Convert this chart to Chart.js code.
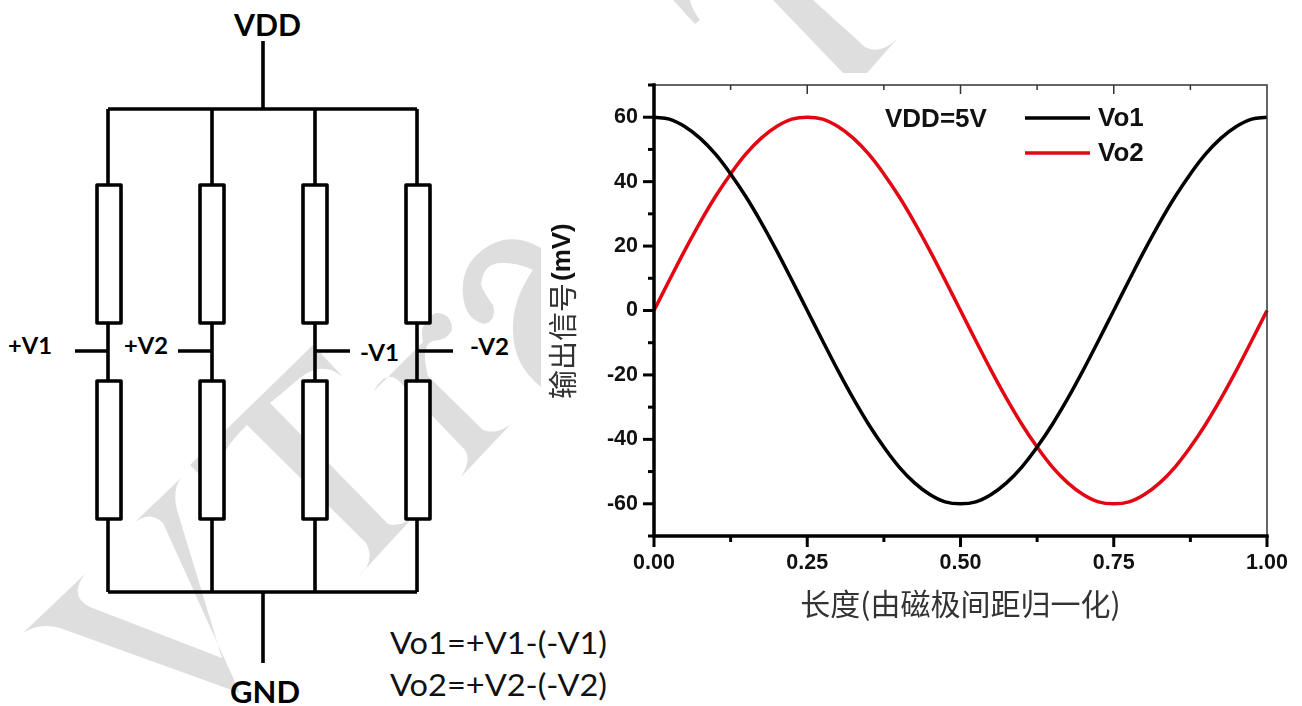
<!DOCTYPE html>
<html>
<head>
<meta charset="utf-8">
<title>VDD</title>
<script src="https://cdn.jsdelivr.net/npm/chart.js@4"></script>
<style>
    html, body { margin: 0; padding: 0; background: #fff; overflow: hidden; }
    #page { position: relative; width: 1302px; height: 706px; }
    #circuit { position: absolute; left: 0; top: 0; }
    #chartBox { position: absolute; left: 540px; top: 70px; width: 762px; height: 560px; }
    .wm { fill: #dedede; }
    .wire { stroke: #000; stroke-width: 3.6; fill: none; stroke-linejoin: round; }
    .box { stroke: #000; stroke-width: 3.6; fill: #fff; stroke-linejoin: round; }
    .lbl { font-family: Lato, "Open Sans", sans-serif; font-weight: 700; fill: #000; }
    .eq { font-family: Lato, "Open Sans", sans-serif; font-size: 31px; fill: #111; }
</style>
</head>
<body>
<div id="page">
    <svg id="circuit" width="1302" height="706">
        <!-- marca de agua -->
        <path class="wm" d="M23,633 Q40,622 60,628 L240,693 L163,523 Q150,510 134,523 L181,478 Q172,490 177,510 L222,658 L90,607 Q68,596 85,574 Z"/>
        <path class="wm" d="M190,465 L313,345 L343,377 Q322,360 300,378 L270,403 L388,524 Q403,528 417,513 L358,577 Q376,562 366,543 L247,425 Q205,465 222,497 Z"/>
        <path class="wm" d="M374,391 L423,342 Q418,322 436,313 Q452,313 452,330 Q448,340 433,341 Q420,345 428,376 L483,430 Q497,435 511,424 L461,477 Q472,460 465,450 L398,380 Q385,370 374,391 Z"/>
        <path class="wm" d="M541,248 Q515,232 490,245 Q460,262 463,295 Q465,320 485,324 Q497,320 493,305 Q485,295 481,285 Q483,262 503,263 Q520,263 533,270 Q512,300 513,330 Q513,365 541,387 Z"/>
        <path class="wm" d="M673,0 L690,0 Q692,10 700,20 L695,24 Z"/>
        <path class="wm" d="M773,0 L813,0 L865,47 Q880,55 897,39 L867,73 L843,73 Z"/>
        <!-- circuito -->
        <path class="wire" d="M263,41 V109 M108,109 H417 M108,109 V592 M212,109 V592 M315,109 V592 M417,109 V592 M108,592 H417 M263,592 V663"/>
        <path class="wire" d="M75,351 H108 M178,351 H212 M315,351 H350 M417,351 H453"/>
        <rect class="box" x="97" y="185" width="24" height="138"/>
        <rect class="box" x="200" y="185" width="24" height="138"/>
        <rect class="box" x="303" y="185" width="24" height="138"/>
        <rect class="box" x="406" y="185" width="24" height="138"/>
        <rect class="box" x="97" y="381" width="24" height="138"/>
        <rect class="box" x="200" y="381" width="24" height="138"/>
        <rect class="box" x="303" y="381" width="24" height="138"/>
        <rect class="box" x="406" y="381" width="24" height="138"/>
        <text class="lbl" x="234" y="36" font-size="31" textLength="67" lengthAdjust="spacingAndGlyphs">VDD</text>
        <text class="lbl" x="230" y="703" font-size="31" textLength="70" lengthAdjust="spacingAndGlyphs">GND</text>
        <text class="lbl" x="8" y="354" font-size="23" textLength="44" lengthAdjust="spacingAndGlyphs">+V1</text>
        <text class="lbl" x="124" y="354" font-size="23" textLength="44" lengthAdjust="spacingAndGlyphs">+V2</text>
        <text class="lbl" x="360" y="361" font-size="23" textLength="39" lengthAdjust="spacingAndGlyphs">-V1</text>
        <text class="lbl" x="470" y="355" font-size="23" textLength="39" lengthAdjust="spacingAndGlyphs">-V2</text>
        <text class="eq" x="390" y="654" textLength="217" lengthAdjust="spacingAndGlyphs">Vo1=+V1-(-V1)</text>
        <text class="eq" x="390" y="696" textLength="217" lengthAdjust="spacingAndGlyphs">Vo2=+V2-(-V2)</text>
    </svg>
    <div id="chartBox"><canvas id="chartVo"></canvas></div>
</div>
<script>
// valores
const longitud = [0, 0.025, 0.05, 0.075, 0.1, 0.125, 0.15, 0.175, 0.2, 0.225, 0.25, 0.275, 0.3, 0.325, 0.35, 0.375, 0.4, 0.425, 0.45, 0.475, 0.5,
    0.525, 0.55, 0.575, 0.6, 0.625, 0.65, 0.675, 0.7, 0.725, 0.75, 0.775, 0.8, 0.825, 0.85, 0.875, 0.9, 0.925, 0.95, 0.975, 1];
const vo1 = [60, 59.4, 57.1, 53.5, 48.6, 42.4, 35.3, 27.3, 18.6, 9.4, 0, -9.4, -18.6, -27.3, -35.3, -42.4, -48.6, -53.5, -57.1, -59.4, -60,
    -59.4, -57.1, -53.5, -48.6, -42.4, -35.3, -27.3, -18.6, -9.4, 0, 9.4, 18.6, 27.3, 35.3, 42.4, 48.6, 53.5, 57.1, 59.4, 60];
const vo2 = [0, 9.4, 18.6, 27.3, 35.3, 42.4, 48.6, 53.5, 57.1, 59.4, 60, 59.4, 57.1, 53.5, 48.6, 42.4, 35.3, 27.3, 18.6, 9.4, 0,
    -9.4, -18.6, -27.3, -35.3, -42.4, -48.6, -53.5, -57.1, -59.4, -60, -59.4, -57.1, -53.5, -48.6, -42.4, -35.3, -27.3, -18.6, -9.4, 0];
const nombres = ['Vo1', 'Vo2'];
const colores = ['#000000', '#e30613'];
const tituloX = '长度(由磁极间距归一化)';
const tituloY = '输出信号';
const unidadY = '(mV)';
const notaVdd = 'VDD=5V';

const fuenteNum = 'Liberation Sans';
const fuenteCjk = 'Noto Sans CJK SC';

function esMayorX(v) { return Math.round(v * 1000) % 250 === 0; }
function esMayorY(v) { return v % 20 === 0; }

// marcas de los ejes, marco y leyenda
const extrasPlugin = {
    id: 'extras',
    afterDatasetsDraw(chart) {
        const { ctx, chartArea: a, scales: { x, y } } = chart;
        ctx.save();
        ctx.strokeStyle = '#333';
        ctx.lineWidth = 1.5;
        ctx.beginPath();
        ctx.moveTo(a.left, a.top);
        ctx.lineTo(a.right, a.top);
        ctx.lineTo(a.right, a.bottom);
        x.ticks.forEach(t => {
            const px = x.getPixelForValue(t.value);
            ctx.moveTo(px, a.top);
            ctx.lineTo(px, a.top + (esMayorX(t.value) ? 9 : 5));
        });
        ctx.stroke();

        // ejes gruesos
        ctx.strokeStyle = '#000';
        ctx.lineWidth = 3.5;
        ctx.lineCap = 'square';
        ctx.beginPath();
        ctx.moveTo(a.left, a.top);
        ctx.lineTo(a.left, a.bottom);
        ctx.lineTo(a.right, a.bottom);
        ctx.stroke();
        ctx.lineCap = 'butt';
        ctx.lineWidth = 3;
        x.ticks.forEach(t => {
            const px = x.getPixelForValue(t.value);
            ctx.beginPath();
            ctx.moveTo(px, a.bottom);
            ctx.lineTo(px, a.bottom + (esMayorX(t.value) ? 11 : 6));
            ctx.stroke();
        });
        y.ticks.forEach(t => {
            const py = y.getPixelForValue(t.value);
            ctx.beginPath();
            ctx.moveTo(a.left, py);
            ctx.lineTo(a.left - (esMayorY(t.value) ? 11 : 6), py);
            ctx.stroke();
        });

        // nota y leyenda
        ctx.fillStyle = '#111';
        ctx.textBaseline = 'middle';
        ctx.textAlign = 'left';
        ctx.font = 'bold 26px "' + fuenteNum + '"';
        ctx.fillText(notaVdd, 345, 50);
        nombres.forEach((n, i) => {
            const ly = 48 + i * 35;
            ctx.strokeStyle = colores[i];
            ctx.lineWidth = 3.5;
            ctx.beginPath();
            ctx.moveTo(485, ly);
            ctx.lineTo(550, ly);
            ctx.stroke();
            ctx.fillText(n, 558, ly + 1);
        });

        // titulo del eje y, dos fuentes
        ctx.translate(23, 329);
        ctx.rotate(-Math.PI / 2);
        ctx.fillStyle = '#333';
        ctx.font = '29px "' + fuenteCjk + '"';
        ctx.fillText(tituloY, 0, 0);
        ctx.fillStyle = '#111';
        ctx.font = 'bold 26px "' + fuenteNum + '"';
        ctx.fillText(unidadY, 118, 0);
        ctx.restore();
    }
};

new Chart(document.getElementById('chartVo').getContext('2d'), {
    type: 'line',
    plugins: [extrasPlugin],
    data: {
        datasets: nombres.map((n, i) => ({
            label: n,
            data: longitud.map((v, k) => ({ x: v, y: (i === 0 ? vo1 : vo2)[k] })),
            borderColor: colores[i],
            borderWidth: 3.5,
            pointRadius: 0,
            tension: 0.4,
            clip: false
        }))
    },
    options: {
        responsive: true,
        maintainAspectRatio: false,
        animation: false,
        events: [],
        layout: { padding: { top: 15, right: 35, left: 0, bottom: 0 } },
        plugins: { legend: { display: false }, tooltip: { enabled: false } },
        scales: {
            x: {
                type: 'linear',
                min: 0,
                max: 1,
                afterFit: s => { s.height = 94; },
                border: { display: false },
                grid: { drawOnChartArea: false, drawTicks: false },
                ticks: {
                    stepSize: 0.125,
                    autoSkip: false,
                    maxRotation: 0,
                    padding: 14,
                    color: '#111',
                    font: { family: fuenteNum, size: 21.5, weight: 'bold' },
                    callback: v => esMayorX(v) ? v.toFixed(2) : ''
                },
                title: {
                    display: true,
                    text: tituloX,
                    color: '#333',
                    font: { family: fuenteCjk, size: 30 },
                    padding: { top: 0, bottom: 8 }
                }
            },
            y: {
                min: -70,
                max: 70,
                afterFit: s => { s.width = 114; s.paddingTop = 0; s.paddingBottom = 0; },
                border: { display: false },
                grid: { drawOnChartArea: false, drawTicks: false },
                ticks: {
                    stepSize: 10,
                    autoSkip: false,
                    padding: 16,
                    color: '#111',
                    font: { family: fuenteNum, size: 21.5, weight: 'bold' },
                    callback: v => (esMayorY(v) && Math.abs(v) <= 60) ? String(v) : ''
                }
            }
        }
    }
});
</script>
</body>
</html>
